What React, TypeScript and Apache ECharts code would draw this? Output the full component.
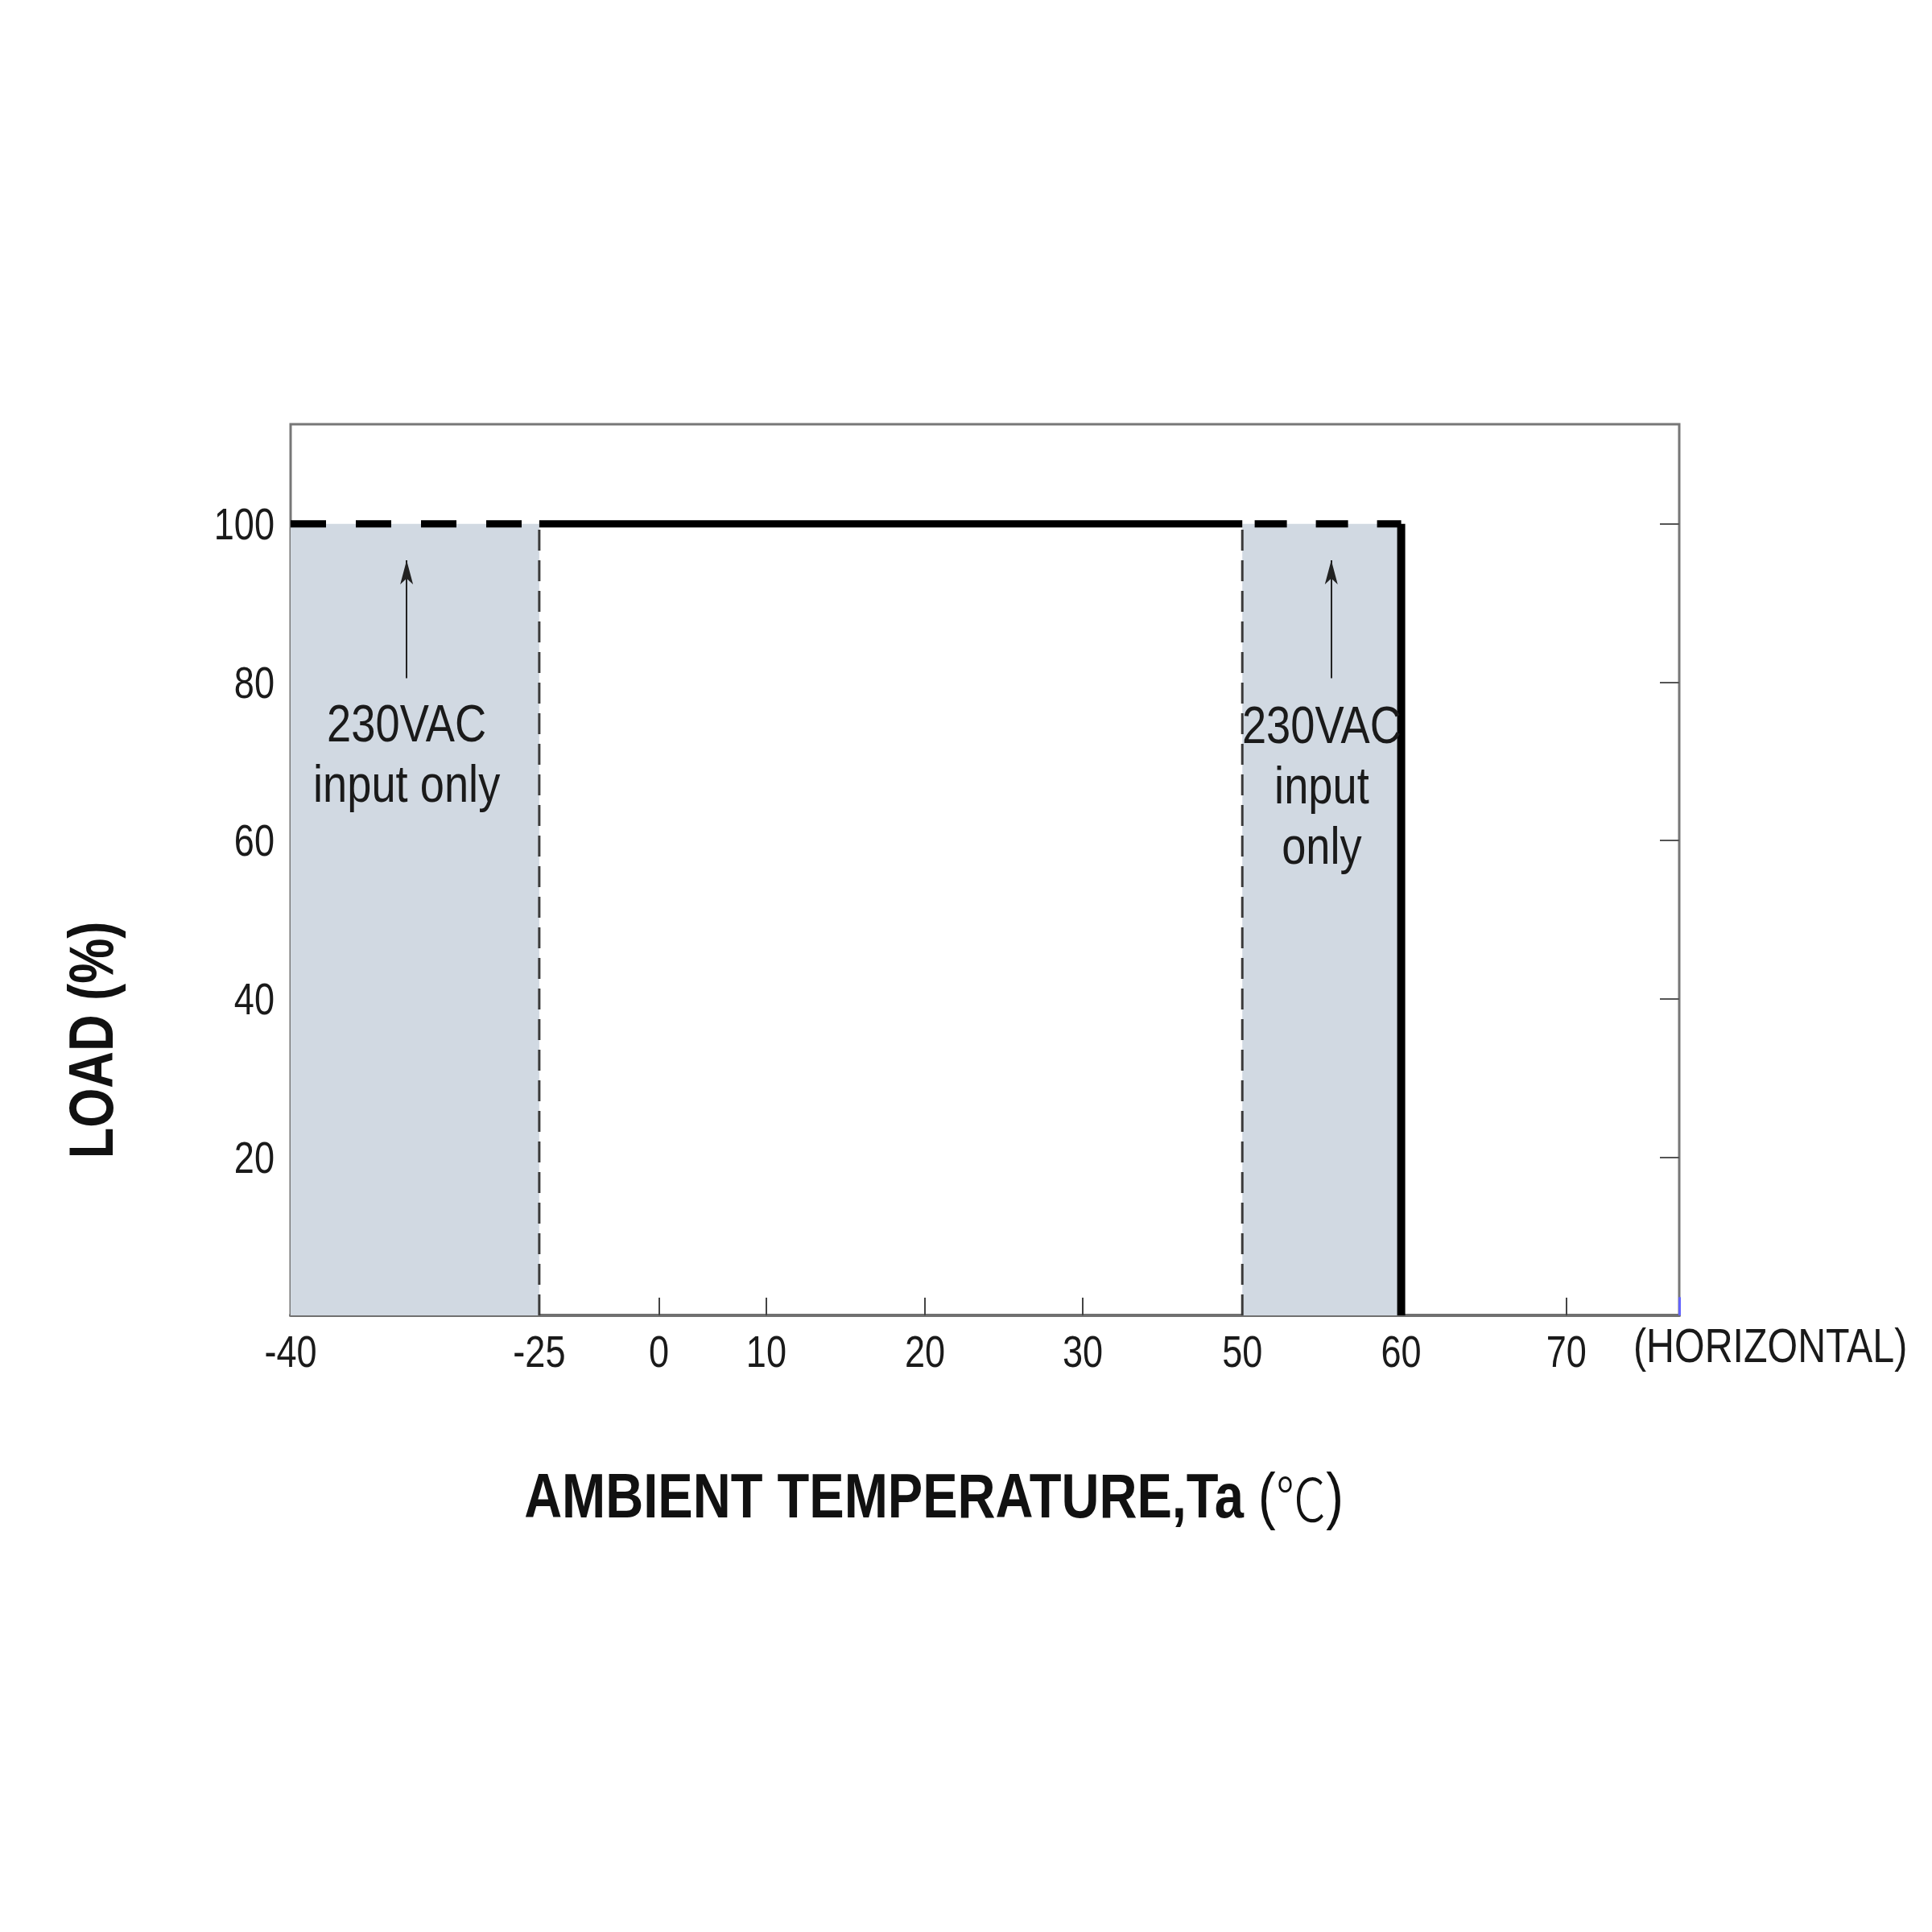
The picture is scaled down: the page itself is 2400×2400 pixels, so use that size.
import React, { useEffect, useRef } from "react";
import * as echarts from "echarts";

// Temperature tick labels and their places on the (non-linear) printed scale
const tempTicks = [-40, -25, 0, 10, 20, 30, 50, 60, 70];
const tickSlots = [0, 1.565, 2.318, 2.994, 3.993, 4.986, 5.99, 6.99, 8.03];
const axisEndSlot = 8.74;
const tickMarkTemps = [0, 10, 20, 30, 50, 60, 70];

const loadTicks = [20, 40, 60, 80, 100];
const loadMax = 112.6;

// Derating curve (temperature °C, load %)
const only230Low = [[-40, 100], [-25, 100]];
const fullRange = [[-25, 100], [50, 100]];
const only230High = [[60, 100], [50, 100]];
const cutOff = [[60, 100], [60, 0]];
const boundaryTemps = [-25, 50];
const shadedRanges = [[-40, -25], [50, 60]];

// Annotations
const arrowTemps = [-33, 55.6];
const arrowLoads = [80.5, 95.4];
const noteTemps = [-33, 55];
const noteLoads = [71, 67];
const noteTexts = ["230VAC\ninput only", "230VAC\ninput\nonly"];
const orientationText = "(HORIZONTAL)";
const xTitle = "AMBIENT TEMPERATURE,Ta ";
const yTitle = "LOAD (%)";

const SANS = "'Liberation Sans', Arial, sans-serif";
const NARROW_X = 0.82;

function toSlot(t: number): number {
  for (let i = 0; i < tempTicks.length - 1; i++) {
    if (t <= tempTicks[i + 1] || i === tempTicks.length - 2) {
      const f = (t - tempTicks[i]) / (tempTicks[i + 1] - tempTicks[i]);
      return tickSlots[i] + f * (tickSlots[i + 1] - tickSlots[i]);
    }
  }
  return 0;
}
const conv = (pts: number[][]) => pts.map(([t, l]) => [toSlot(t), l]);

export default function App() {
  const ref = useRef<HTMLDivElement>(null);
  useEffect(() => {
    if (!ref.current) return;
    const chart = echarts.init(ref.current, null, { renderer: "svg" });
    const thick = { color: "#000", width: 9, cap: "butt" as const };
    const option: any = {
      animation: false,
      backgroundColor: "#fff",
      grid: {
        left: 361,
        right: 314,
        top: 527,
        bottom: 766,
        show: true,
        borderColor: "#777",
        borderWidth: 3,
        backgroundColor: "transparent",
      },
      xAxis: {
        type: "value",
        min: 0,
        max: axisEndSlot,
        axisLine: { show: true, onZero: false, lineStyle: { color: "#707070", width: 4 } },
        splitLine: { show: false },
        axisTick: {
          show: true,
          inside: true,
          length: 22,
          lineStyle: { color: "#444", width: 2 },
          customValues: tickMarkTemps.map(toSlot),
        },
        axisLabel: { show: false },
      },
      yAxis: [
        {
          type: "value",
          min: 0,
          max: loadMax,
          axisLine: { show: false },
          splitLine: { show: false },
          axisTick: {
            show: true,
            inside: true,
            length: 22,
            lineStyle: { color: "#555", width: 2 },
            customValues: loadTicks,
          },
          axisLabel: { show: false },
        },
        {
          type: "value",
          position: "right",
          min: 0,
          max: loadMax,
          axisLine: { show: false },
          splitLine: { show: false },
          axisTick: {
            show: true,
            inside: true,
            length: 24,
            lineStyle: { color: "#555", width: 2 },
            customValues: loadTicks,
          },
          axisLabel: { show: false },
        },
      ],
      series: [
        {
          type: "line",
          data: [],
          silent: true,
          markArea: {
            silent: true,
            itemStyle: { color: "#d1d9e2" },
            data: shadedRanges.map(([a, b]) => [
              { coord: [toSlot(a), 0] },
              { coord: [toSlot(b), 100] },
            ]),
          },
        },
        ...boundaryTemps.map((t) => ({
          type: "line",
          data: conv([[t, 0], [t, 100]]),
          symbol: "none",
          silent: true,
          lineStyle: { color: "#3a3a3a", width: 3, type: [26, 12] },
          z: 3,
        })),
        {
          type: "line",
          data: conv(only230Low),
          symbol: "none",
          silent: true,
          lineStyle: { ...thick, type: [44, 37] },
          z: 4,
        },
        {
          type: "line",
          data: conv(fullRange),
          symbol: "none",
          silent: true,
          lineStyle: thick,
          z: 4,
        },
        {
          type: "line",
          data: conv(only230High),
          symbol: "none",
          silent: true,
          lineStyle: { ...thick, type: [40, 36], dashOffset: 10 },
          z: 4,
        },
        {
          type: "line",
          data: conv(cutOff),
          symbol: "none",
          silent: true,
          lineStyle: { ...thick, width: 10 },
          z: 5,
        },
        {
          type: "line",
          data: [],
          silent: true,
          markLine: {
            silent: true,
            symbol: ["none", "arrow"],
            symbolSize: [12, 30],
            label: { show: false },
            lineStyle: { color: "#222", width: 2, type: "solid" },
            data: arrowTemps.map((t) => [
              { coord: [toSlot(t), arrowLoads[0]] },
              { coord: [toSlot(t), arrowLoads[1]] },
            ]),
          },
        },
        {
          type: "line",
          data: [],
          silent: true,
          markLine: {
            silent: true,
            symbol: ["none", "none"],
            label: { show: false },
            lineStyle: { color: "#6464ff", width: 3, type: "solid" },
            data: [[{ coord: [axisEndSlot, 0] }, { coord: [axisEndSlot, 2.3] }]],
          },
          z: 6,
        },
      ],
    };
    chart.setOption(option);

    const px = (slot: number, load: number) =>
      chart.convertToPixel({ gridIndex: 0 }, [slot, load]) as number[];

    const graphics: any[] = [];
    loadTicks.forEach((l) => {
      const [x, y] = px(0, l);
      graphics.push({
        type: "text",
        x: x - 20,
        y,
        scaleX: NARROW_X,
        style: {
          text: String(l),
          font: `55px ${SANS}`,
          fill: "#1a1a1a",
          align: "right",
          verticalAlign: "middle",
        },
      });
    });
    tempTicks.forEach((t, i) => {
      const [x, y] = px(tickSlots[i], 0);
      graphics.push({
        type: "text",
        x,
        y: y + 45,
        scaleX: NARROW_X,
        style: {
          text: String(t),
          font: `55px ${SANS}`,
          fill: "#1a1a1a",
          align: "center",
          verticalAlign: "middle",
        },
      });
    });
    {
      const [x, y] = px(axisEndSlot, 0);
      graphics.push({
        type: "text",
        x: x - 57,
        y: y + 37,
        scaleX: NARROW_X,
        style: {
          text: orientationText,
          font: `59px ${SANS}`,
          fill: "#1a1a1a",
          align: "left",
          verticalAlign: "middle",
        },
      });
    }
    noteTemps.forEach((t, i) => {
      const [x, y] = px(toSlot(t), noteLoads[i]);
      graphics.push({
        type: "text",
        x,
        y,
        scaleX: 0.835,
        z: 10,
        style: {
          text: noteTexts[i],
          font: `65px ${SANS}`,
          lineHeight: 75,
          fill: "#1a1a1a",
          align: "center",
          verticalAlign: "middle",
        },
      });
    });
    graphics.push({
      type: "text",
      x: 1160,
      y: 1858,
      scaleX: 0.845,
      style: {
        text: `{b|${xTitle}}{r|(}{c|℃}{r|)}`,
        align: "center",
        verticalAlign: "middle",
        rich: {
          b: { fontFamily: SANS, fontWeight: "bold", fontSize: 77, fill: "#111" },
          r: { fontFamily: SANS, fontWeight: "normal", fontSize: 77, fill: "#111" },
          c: { fontFamily: "'Noto Sans CJK SC', sans-serif", fontWeight: 300, fontSize: 74, fill: "#111" },
        },
      },
    });
    graphics.push({
      type: "text",
      x: 113,
      y: 1292,
      rotation: Math.PI / 2,
      scaleX: NARROW_X,
      style: {
        text: yTitle,
        font: `bold 77px ${SANS}`,
        fill: "#111",
        align: "center",
        verticalAlign: "middle",
      },
    });
    chart.setOption({ graphic: graphics });

    return () => chart.dispose();
  }, []);
  return (
    <div
      ref={ref}
      style={{ position: "absolute", left: 0, top: 0, width: 2400, height: 2400 }}
    />
  );
}
